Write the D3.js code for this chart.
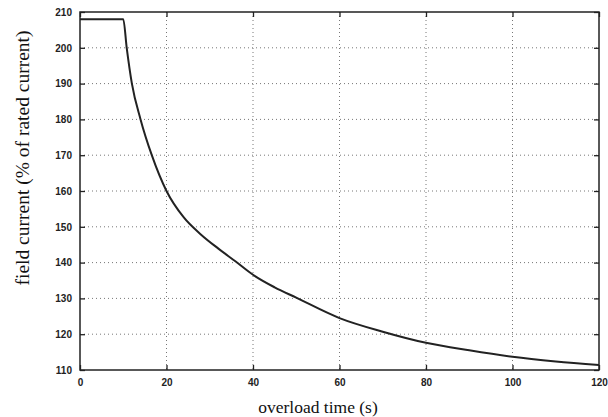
<!DOCTYPE html>
<html>
<head>
<meta charset="utf-8">
<script src="https://cdn.jsdelivr.net/npm/d3@7"></script>
<style>
  body { margin: 0; background: #fff; }
  .tick text { font-family: "Liberation Sans", Arial, sans-serif; font-size: 10px; font-weight: bold; fill: #222; }
  .label { font-family: "Liberation Serif", "Times New Roman", serif; fill: #111; }
</style>
</head>
<body>
<div id="chart"></div>
<script>
// overload time (s) vs field current (% of rated current)
const time    = [0, 10, 10.8, 12, 14, 16.6, 20, 24, 28, 32, 36, 40, 45, 50, 60, 70, 80, 90, 100, 110, 120];
const current = [208, 208, 200, 190, 180, 170, 160, 152.6, 147.8, 143.9, 140.3, 136.6, 133.1, 130.2, 124.5, 120.7, 117.6, 115.5, 113.7, 112.4, 111.4];
const xTicks = [0, 20, 40, 60, 80, 100, 120];
const yTicks = [110, 120, 130, 140, 150, 160, 170, 180, 190, 200, 210];

const W = 608, H = 417;
const pLeft = 80, pRight = 599, pTop = 12, pBottom = 370;

const svg = d3.select("#chart").append("svg")
    .attr("width", W)
    .attr("height", H);

const x = d3.scaleLinear().domain([0, 120]).range([pLeft, pRight]);
const y = d3.scaleLinear().domain([110, 210]).range([pBottom, pTop]);

// dotted grid
const grid = svg.append("g");
grid.selectAll(".gx")
    .data(xTicks.slice(1, -1))
    .enter().append("line")
    .attr("x1", d => x(d)).attr("x2", d => x(d))
    .attr("y1", pTop).attr("y2", pBottom)
    .style("stroke", "#777").style("stroke-width", 1)
    .style("stroke-dasharray", "1,3");
grid.selectAll(".gy")
    .data(yTicks.slice(1, -1))
    .enter().append("line")
    .attr("x1", pLeft).attr("x2", pRight)
    .attr("y1", d => y(d)).attr("y2", d => y(d))
    .style("stroke", "#777").style("stroke-width", 1)
    .style("stroke-dasharray", "1,3");

// axes, ticks pointing inward
svg.append("g")
    .attr("transform", `translate(0,${pBottom})`)
    .call(d3.axisBottom(x).tickValues(xTicks).tickSize(-5).tickPadding(9).tickFormat(d3.format("d")))
    .call(g => g.select(".domain").remove());
svg.append("g")
    .attr("transform", `translate(${pLeft},0)`)
    .call(d3.axisLeft(y).tickValues(yTicks).tickSize(-5).tickPadding(8).tickFormat(d3.format("d")))
    .call(g => g.select(".domain").remove());
svg.append("g")
    .attr("transform", `translate(0,${pTop})`)
    .call(d3.axisTop(x).tickValues(xTicks).tickSize(-5).tickFormat(""))
    .call(g => g.select(".domain").remove());
svg.append("g")
    .attr("transform", `translate(${pRight},0)`)
    .call(d3.axisRight(y).tickValues(yTicks).tickSize(-5).tickFormat(""))
    .call(g => g.select(".domain").remove());

svg.selectAll(".tick line").style("stroke", "#222").style("stroke-width", 1.3);

// frame
svg.append("rect")
    .attr("x", pLeft).attr("y", pTop)
    .attr("width", pRight - pLeft).attr("height", pBottom - pTop)
    .style("fill", "none").style("stroke", "#222").style("stroke-width", 1.5);

// curve
const line = d3.line()
    .x((d, i) => x(time[i]))
    .y(d => y(d))
    .curve(d3.curveMonotoneX);

svg.append("path")
    .datum(current)
    .attr("d", line)
    .style("fill", "none")
    .style("stroke", "#222")
    .style("stroke-width", 2);

// labels
svg.append("text")
    .attr("class", "label")
    .attr("x", 318).attr("y", 413)
    .attr("text-anchor", "middle")
    .style("font-size", "17.5px")
    .text("overload time (s)");

svg.append("text")
    .attr("class", "label")
    .attr("transform", "translate(29,158) rotate(-90)")
    .attr("text-anchor", "middle")
    .style("font-size", "19.5px")
    .text("field current (% of rated current)");
</script>
</body>
</html>
